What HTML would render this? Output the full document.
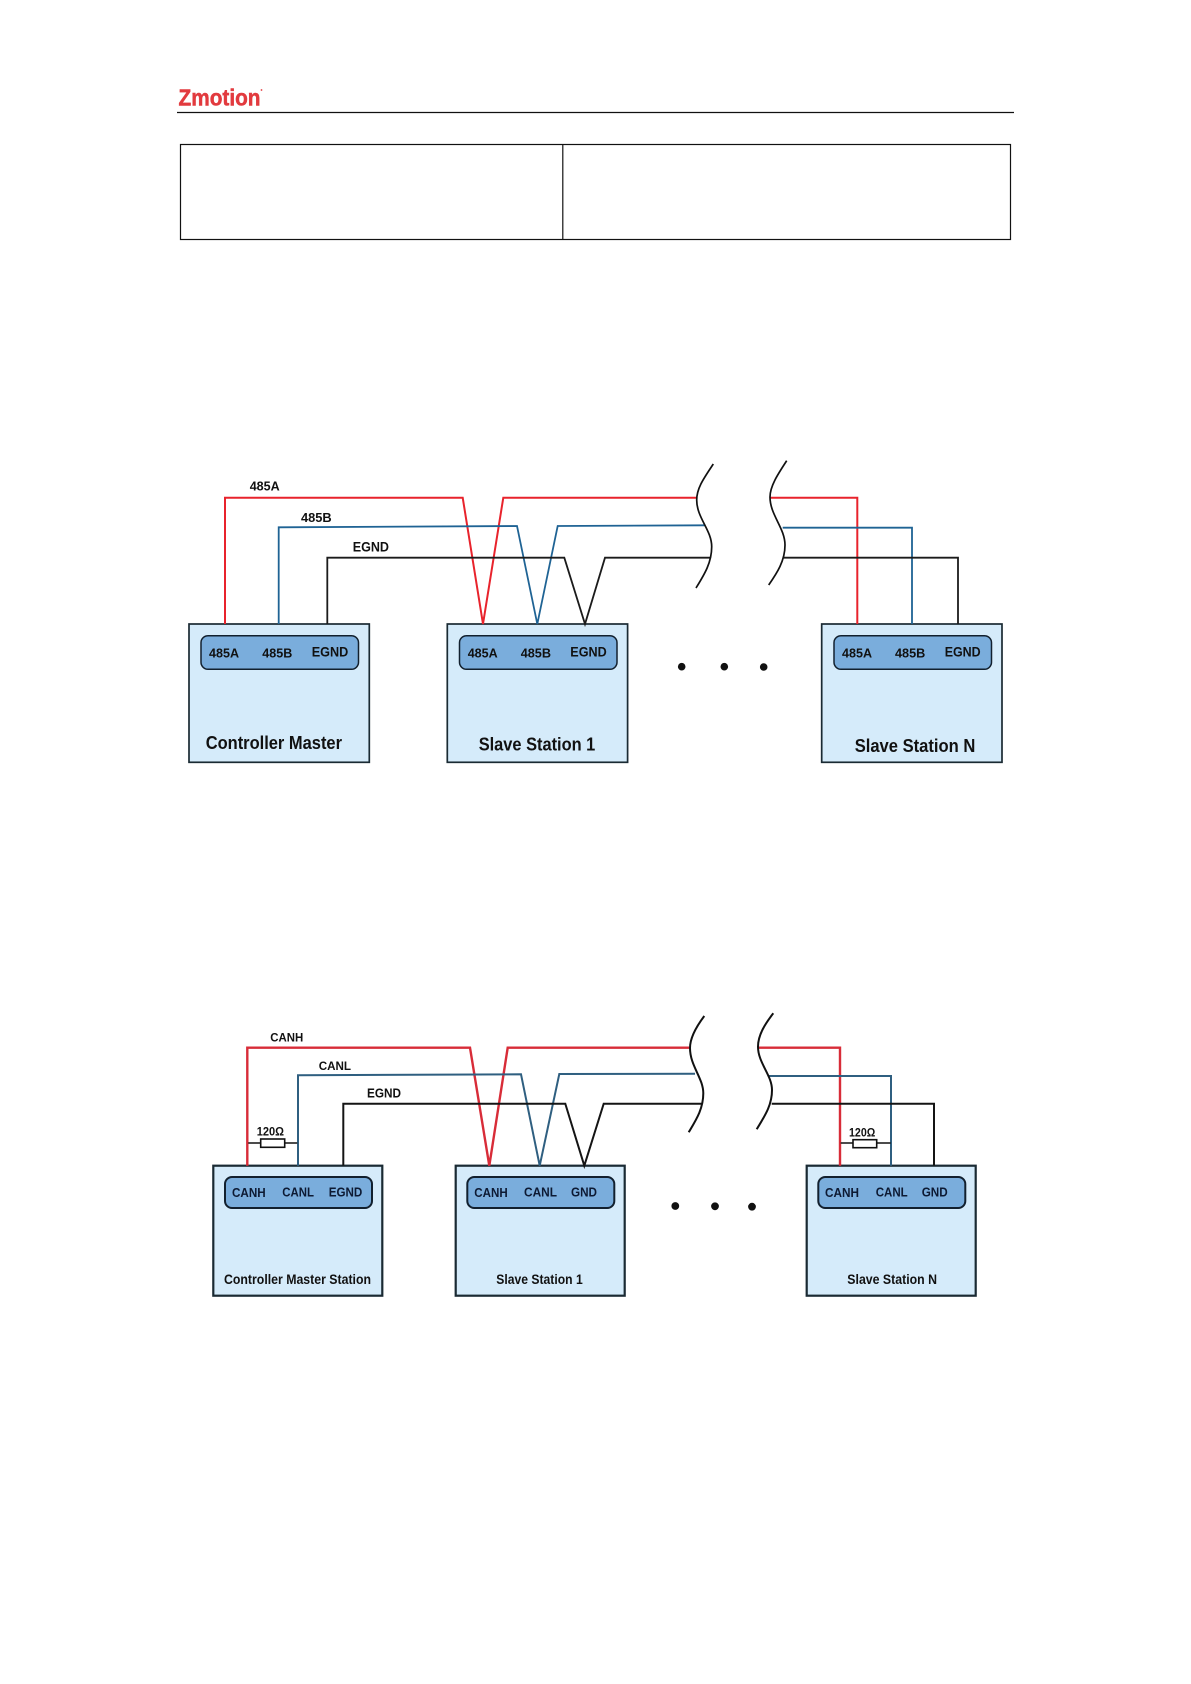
<!DOCTYPE html>
<html><head><meta charset="utf-8"><title>RS485 and CAN wiring</title>
<style>
html,body{margin:0;padding:0;background:#fff}
svg{display:block}
text{font-family:"Liberation Sans",sans-serif;font-weight:bold;fill:#111;}
.w{fill:none;stroke-linejoin:miter}
.box{fill:#d5ebfa;stroke:#1a2a33}
.pan{fill:#7aaddc;stroke:#12202e}
.c{fill:none;stroke:#111;stroke-width:1.7}
.d{fill:#0d1a33}
</style></head><body>
<svg width="1191" height="1684" viewBox="0 0 1191 1684" xmlns="http://www.w3.org/2000/svg">
<rect width="1191" height="1684" fill="#fff"/>
<!-- header -->
<text x="178.500" y="105.500" font-size="23" textLength="82" lengthAdjust="spacingAndGlyphs" style="fill:#e23a3e;stroke:#e23a3e;stroke-width:.5">Zmotion</text>
<circle cx="261.500" cy="90" r="0.900" fill="#e23a3e"/>
<path d="M177 112.500H1014" stroke="#111" stroke-width="1.200"/>
<rect x="180.500" y="144.500" width="830" height="95" fill="none" stroke="#111" stroke-width="1.200"/>
<path d="M562.800 144.500V239.500" stroke="#111" stroke-width="1.200"/>

<!-- Diagram 1 -->
<rect class="box" x="189" y="624" width="180.300" height="138.300" stroke-width="1.700"/>
<rect class="box" x="447.300" y="624" width="180.300" height="138.300" stroke-width="1.700"/>
<rect class="box" x="821.700" y="624" width="180.300" height="138.300" stroke-width="1.700"/>
<rect class="pan" x="201" y="635.700" width="157.500" height="33.600" rx="7" stroke-width="1.500"/>
<rect class="pan" x="459.500" y="635.700" width="157.500" height="33.600" rx="7" stroke-width="1.500"/>
<rect class="pan" x="834" y="635.700" width="157.500" height="33.600" rx="7" stroke-width="1.500"/>

<path class="w" stroke="#e8232c" stroke-width="2" d="M225 624V497.700H462.700L483 624L503.300 497.700H696.700"/>
<path class="w" stroke="#e8232c" stroke-width="2" d="M770 497.700H857.300V624"/>
<path class="w" stroke="#1f6394" stroke-width="1.800" d="M278.700 624V527.300L517 526L537.300 624L557.700 526L705 525.300"/>
<path class="w" stroke="#1f6394" stroke-width="1.800" d="M782.700 527.700H912V624"/>
<path class="w" stroke="#1b1b1b" stroke-width="1.800" d="M327.300 624V557.700H564.300L585 624L605 557.700H710.700"/>
<path class="w" stroke="#1b1b1b" stroke-width="1.800" d="M783.300 557.700H958V624"/>
<path class="c" d="M713.300 464C704 478 696.700 488 696.700 500C696.700 518 711.700 530 711.700 546.700C711.700 563 704 575 696 588"/>
<path class="c" d="M786.700 460.700C778 474 770 486 770 497C770 515 785 528 785 545C785 561 777 573 768.700 585"/>
<circle cx="681.700" cy="666.700" r="3.800" fill="#111"/>
<circle cx="724.300" cy="666.700" r="3.800" fill="#111"/>
<circle cx="763.700" cy="667" r="3.800" fill="#111"/>

<text x="249.700" y="490.700" font-size="13" textLength="30" lengthAdjust="spacingAndGlyphs">485A</text>
<text x="301" y="522" font-size="13" textLength="30.700" lengthAdjust="spacingAndGlyphs">485B</text>
<text x="352.700" y="551.300" font-size="14" textLength="36.300" lengthAdjust="spacingAndGlyphs">EGND</text>

<text x="209" y="657.300" font-size="13" textLength="30" lengthAdjust="spacingAndGlyphs">485A</text>
<text x="262.300" y="657.300" font-size="13" textLength="30" lengthAdjust="spacingAndGlyphs">485B</text>
<text x="311.700" y="656.700" font-size="13.500" textLength="36.600" lengthAdjust="spacingAndGlyphs">EGND</text>
<text x="467.700" y="657.300" font-size="13" textLength="30" lengthAdjust="spacingAndGlyphs">485A</text>
<text x="520.700" y="657.300" font-size="13" textLength="30.300" lengthAdjust="spacingAndGlyphs">485B</text>
<text x="570.300" y="656.700" font-size="13.500" textLength="36.400" lengthAdjust="spacingAndGlyphs">EGND</text>
<text x="842" y="657.300" font-size="13" textLength="30" lengthAdjust="spacingAndGlyphs">485A</text>
<text x="895" y="657.300" font-size="13" textLength="30.300" lengthAdjust="spacingAndGlyphs">485B</text>
<text x="944.700" y="656.700" font-size="13.500" textLength="36" lengthAdjust="spacingAndGlyphs">EGND</text>

<text x="205.700" y="749" font-size="18" textLength="136.300" lengthAdjust="spacingAndGlyphs">Controller Master</text>
<text x="478.700" y="750.700" font-size="18" textLength="116.600" lengthAdjust="spacingAndGlyphs">Slave Station 1</text>
<text x="854.700" y="752" font-size="18" textLength="120.600" lengthAdjust="spacingAndGlyphs">Slave Station N</text>

<!-- Diagram 2 -->
<rect class="box" x="213.300" y="1165.700" width="169" height="130" stroke-width="2.200"/>
<rect class="box" x="455.700" y="1165.700" width="169" height="130" stroke-width="2.200"/>
<rect class="box" x="806.700" y="1165.700" width="169" height="130" stroke-width="2.200"/>
<rect class="pan" x="225" y="1177" width="147" height="31" rx="7" stroke-width="2"/>
<rect class="pan" x="467.300" y="1177" width="147" height="31" rx="7" stroke-width="2"/>
<rect class="pan" x="818.300" y="1177" width="147" height="31" rx="7" stroke-width="2"/>

<path class="w" stroke="#d82c38" stroke-width="2.400" d="M247.300 1165.700V1047.700H470L489.300 1165.700L507.700 1047.700H689.300"/>
<path class="w" stroke="#d82c38" stroke-width="2.400" d="M758.300 1047.700H840V1165.700"/>
<path class="w" stroke="#2f5f80" stroke-width="2" d="M298 1165.700V1075.300L521 1074.300L539.700 1165.700L559.300 1074L695 1073.700"/>
<path class="w" stroke="#2f5f80" stroke-width="2" d="M768.300 1076H891V1165.700"/>
<path class="w" stroke="#141414" stroke-width="2" d="M343.300 1165.700V1103.700H565.300L584.300 1165.700L603.700 1103.700H701.700"/>
<path class="w" stroke="#141414" stroke-width="2" d="M771.700 1103.700H934V1165.700"/>
<path class="c" style="stroke-width:2" d="M704.300 1016C696 1027 690 1038 690 1048C690 1066 703.300 1078 703.300 1093.300C703.300 1109 696 1120 688.700 1132.300"/>
<path class="c" style="stroke-width:2" d="M773.300 1013.300C765 1024 758 1035 758 1046.700C758 1063 772 1075 772 1090C772 1106 764 1117 756.700 1129.300"/>

<path d="M248.300 1143H297.300" stroke="#111" stroke-width="1.600"/>
<rect x="260.700" y="1139" width="24" height="8.300" fill="#fff" stroke="#111" stroke-width="1.600"/>
<path d="M840.700 1143H890.700" stroke="#111" stroke-width="1.600"/>
<rect x="853" y="1139.700" width="23.700" height="8" fill="#fff" stroke="#111" stroke-width="1.600"/>
<text x="256.700" y="1135.700" font-size="11.500" textLength="27.300" lengthAdjust="spacingAndGlyphs">120Ω</text>
<text x="849" y="1136.300" font-size="11.500" textLength="26.300" lengthAdjust="spacingAndGlyphs">120Ω</text>

<circle cx="675.300" cy="1206" r="3.900" fill="#111"/>
<circle cx="715" cy="1206.300" r="3.900" fill="#111"/>
<circle cx="752" cy="1206.700" r="3.900" fill="#111"/>

<text x="270.300" y="1041.300" font-size="12" textLength="33" lengthAdjust="spacingAndGlyphs">CANH</text>
<text x="318.700" y="1070" font-size="12" textLength="32.300" lengthAdjust="spacingAndGlyphs">CANL</text>
<text x="367" y="1097.700" font-size="12.500" textLength="34" lengthAdjust="spacingAndGlyphs">EGND</text>

<text class="d" style="fill:#0d1a33" x="232" y="1197" font-size="12.500" textLength="33.700" lengthAdjust="spacingAndGlyphs">CANH</text>
<text class="d" style="fill:#0d1a33" x="282.300" y="1196.700" font-size="12.500" textLength="31.700" lengthAdjust="spacingAndGlyphs">CANL</text>
<text class="d" style="fill:#0d1a33" x="328.700" y="1196.700" font-size="12.500" textLength="33.600" lengthAdjust="spacingAndGlyphs">EGND</text>
<text class="d" style="fill:#0d1a33" x="474.300" y="1197" font-size="12.500" textLength="33.400" lengthAdjust="spacingAndGlyphs">CANH</text>
<text class="d" style="fill:#0d1a33" x="524" y="1196.700" font-size="12.500" textLength="33" lengthAdjust="spacingAndGlyphs">CANL</text>
<text class="d" style="fill:#0d1a33" x="571" y="1196.700" font-size="12.500" textLength="26" lengthAdjust="spacingAndGlyphs">GND</text>
<text class="d" style="fill:#0d1a33" x="825" y="1197" font-size="12.500" textLength="34" lengthAdjust="spacingAndGlyphs">CANH</text>
<text class="d" style="fill:#0d1a33" x="875.700" y="1196.700" font-size="12.500" textLength="32" lengthAdjust="spacingAndGlyphs">CANL</text>
<text class="d" style="fill:#0d1a33" x="921.700" y="1196.700" font-size="12.500" textLength="26" lengthAdjust="spacingAndGlyphs">GND</text>

<text x="224" y="1284" font-size="14" textLength="147" lengthAdjust="spacingAndGlyphs">Controller Master Station</text>
<text x="496.300" y="1284" font-size="14" textLength="86.400" lengthAdjust="spacingAndGlyphs">Slave Station 1</text>
<text x="847.300" y="1284" font-size="14" textLength="89.700" lengthAdjust="spacingAndGlyphs">Slave Station N</text>
</svg>
</body></html>
